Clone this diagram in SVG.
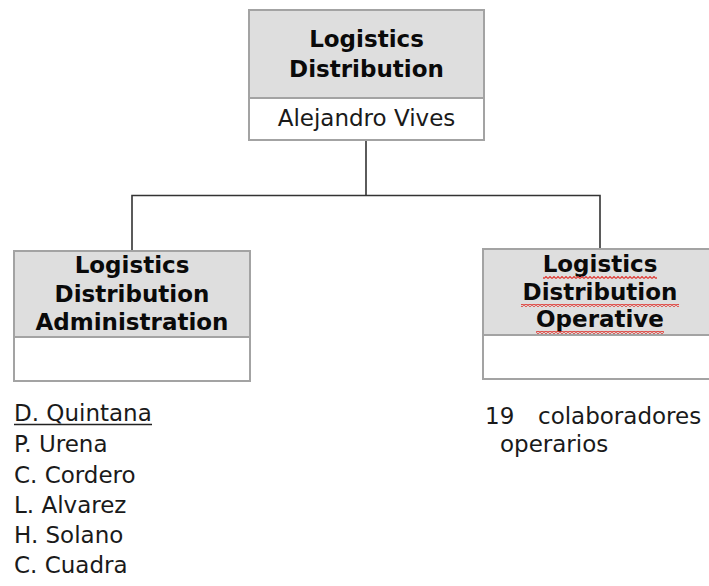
<svg xmlns="http://www.w3.org/2000/svg" width="709" height="586" viewBox="0 0 709 586">
  <defs>
    <style>
      .head { fill: #dedede; stroke: #a3a3a3; stroke-width: 2; }
      .body { fill: #ffffff; stroke: #a3a3a3; stroke-width: 2; }
      .title { font-family: "DejaVu Sans", Verdana, sans-serif; font-weight: bold; font-size: 23px; fill: #0a0a0a; text-anchor: middle; }
      .name { font-family: "DejaVu Sans", Verdana, sans-serif; font-size: 23px; fill: #1a1a1a; }
      .list { font-family: "DejaVu Sans", Verdana, sans-serif; font-size: 23px; fill: #1a1a1a; }
      .link { fill: none; stroke: #333; stroke-width: 1.6; }
    </style>
    <!-- red spell-check squiggle -->
    <pattern id="squiggle" patternUnits="userSpaceOnUse" x="0" y="0" width="4" height="3">
      <path d="M0,2.5 L2,0.5 L4,2.5" fill="none" stroke="#e03a34" stroke-width="1.2"/>
    </pattern>
  </defs>

  <!-- connectors -->
  <g id="connectors">
    <path class="link" d="M366,140 V195.5"/>
    <path class="link" d="M132,251 V195.5 H600 V249"/>
  </g>

  <!-- top node -->
  <g id="node-logistics-distribution">
    <rect class="head" x="249" y="10" width="235" height="88"/>
    <rect class="body" x="249" y="98" width="235" height="42"/>
    <text class="title" x="366.5" y="47">Logistics</text>
    <text class="title" x="366.5" y="77">Distribution</text>
    <text class="name" x="366.5" y="126" text-anchor="middle">Alejandro Vives</text>
  </g>

  <!-- administration node -->
  <g id="node-administration">
    <rect class="head" x="14" y="251" width="236" height="86"/>
    <rect class="body" x="14" y="337" width="236" height="44"/>
    <text class="title" x="132" y="273">Logistics</text>
    <text class="title" x="132" y="302">Distribution</text>
    <text class="title" x="132" y="330">Administration</text>
  </g>

  <!-- operative node -->
  <g id="node-operative">
    <rect class="head" x="483" y="249" width="236" height="86"/>
    <rect class="body" x="483" y="335" width="236" height="44"/>
    <text class="title" x="600" y="272">Logistics</text>
    <text class="title" x="600" y="300">Distribution</text>
    <text class="title" x="600" y="327">Operative</text>
    <rect x="543" y="276" width="114" height="3" fill="url(#squiggle)"/>
    <rect x="521" y="304" width="158" height="3" fill="url(#squiggle)"/>
    <rect x="536" y="331" width="128" height="3" fill="url(#squiggle)"/>
  </g>

  <!-- administration staff -->
  <g id="admin-staff">
    <text class="list" x="14" y="421">D. Quintana</text>
    <line x1="14" y1="424.5" x2="152" y2="424.5" stroke="#222" stroke-width="1.3"/>
    <text class="list" x="14" y="452">P. Urena</text>
    <text class="list" x="14" y="483">C. Cordero</text>
    <text class="list" x="14" y="513">L. Alvarez</text>
    <text class="list" x="14" y="543">H. Solano</text>
    <text class="list" x="14" y="573">C. Cuadra</text>
  </g>

  <!-- operative staff -->
  <g id="operative-staff">
    <text class="list" x="485" y="424">19</text>
    <text class="list" x="538" y="424">colaboradores</text>
    <text class="list" x="500" y="452">operarios</text>
  </g>
</svg>
